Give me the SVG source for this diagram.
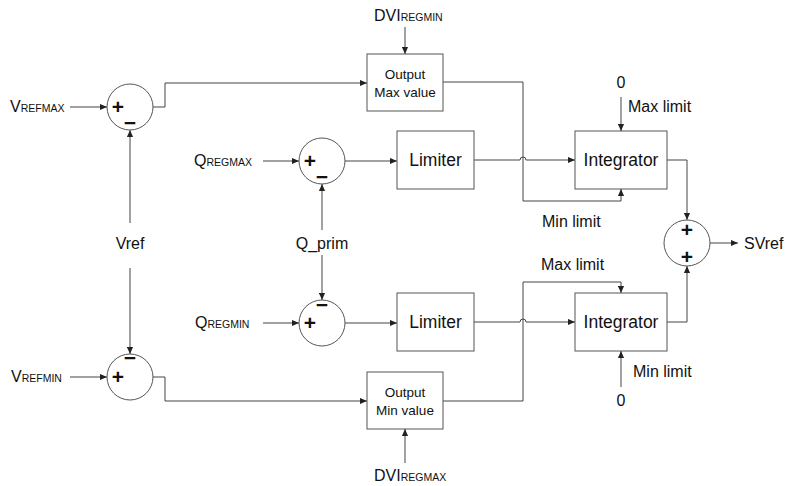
<svg xmlns="http://www.w3.org/2000/svg" width="785" height="486" viewBox="0 0 785 486">
<style>
text{font-family:"Liberation Sans",Arial,sans-serif;fill:#111}
.lbl{font-size:16px}
.big{font-size:17.5px}
.sm{font-size:13.5px}
.sub{font-size:10.5px}
.sign{font-size:21px;font-weight:bold}
.box{fill:#fff;stroke:#555;stroke-width:1}
.sum{fill:#fff;stroke:#555;stroke-width:1}
.c{fill:none;stroke:#444;stroke-width:1}
</style>
<defs>
<marker id="ah" viewBox="0 0 8 8" refX="8" refY="4" markerWidth="7" markerHeight="7" markerUnits="userSpaceOnUse" orient="auto">
<path d="M0,0.5 L8,4 L0,7.5 z" fill="#222"/>
</marker>
</defs>

<g id="connectors">
<line class="c" x1="70" y1="107" x2="107" y2="107" marker-end="url(#ah)"/>
<polyline class="c" points="153,107 165,107 165,83 367,83" marker-end="url(#ah)"/>
<line class="c" x1="405" y1="27" x2="405" y2="54" marker-end="url(#ah)"/>
<line class="c" x1="263" y1="161" x2="299" y2="161" marker-end="url(#ah)"/>
<line class="c" x1="345" y1="161" x2="397" y2="161" marker-end="url(#ah)"/>
<path class="c" d="M474,160 H520 A3,3 0 0 1 526,160 H575" marker-end="url(#ah)"/>
<polyline class="c" points="443,82 523,82 523,201 621,201 621,189" marker-end="url(#ah)"/>
<line class="c" x1="621" y1="97" x2="621" y2="131" marker-end="url(#ah)"/>
<polyline class="c" points="667,160 687,160 687,220" marker-end="url(#ah)"/>
<line class="c" x1="710" y1="243" x2="738" y2="243" marker-end="url(#ah)"/>
<line class="c" x1="130" y1="223" x2="130" y2="130" marker-end="url(#ah)"/>
<line class="c" x1="322" y1="230" x2="322" y2="184" marker-end="url(#ah)"/>
<line class="c" x1="130" y1="268" x2="130" y2="354" marker-end="url(#ah)"/>
<line class="c" x1="322" y1="255" x2="322" y2="300" marker-end="url(#ah)"/>
<line class="c" x1="263" y1="323" x2="299" y2="323" marker-end="url(#ah)"/>
<line class="c" x1="345" y1="323" x2="397" y2="323" marker-end="url(#ah)"/>
<path class="c" d="M474,322 H520 A3,3 0 0 1 526,322 H575" marker-end="url(#ah)"/>
<polyline class="c" points="443,401 523,401 523,282 621,282 621,293" marker-end="url(#ah)"/>
<line class="c" x1="621" y1="387" x2="621" y2="351" marker-end="url(#ah)"/>
<polyline class="c" points="667,322 687,322 687,266" marker-end="url(#ah)"/>
<line class="c" x1="70" y1="377" x2="107" y2="377" marker-end="url(#ah)"/>
<polyline class="c" points="153,377 165,377 165,401 367,401" marker-end="url(#ah)"/>
<line class="c" x1="405" y1="463" x2="405" y2="429" marker-end="url(#ah)"/>
</g>

<g id="sum_vrefmax">
<circle class="sum" cx="130" cy="107" r="23"/>
<text class="sign" x="118" y="114" text-anchor="middle">+</text>
<text class="sign" x="130" y="130" text-anchor="middle">−</text>
</g>
<g id="sum_qregmax">
<circle class="sum" cx="322" cy="161" r="23"/>
<text class="sign" x="310" y="168" text-anchor="middle">+</text>
<text class="sign" x="322" y="184" text-anchor="middle">−</text>
</g>
<g id="sum_qregmin">
<circle class="sum" cx="322" cy="323" r="23"/>
<text class="sign" x="322" y="312" text-anchor="middle">−</text>
<text class="sign" x="310" y="330" text-anchor="middle">+</text>
</g>
<g id="sum_vrefmin">
<circle class="sum" cx="130" cy="377" r="23"/>
<text class="sign" x="130" y="365" text-anchor="middle">−</text>
<text class="sign" x="118" y="384" text-anchor="middle">+</text>
</g>
<g id="sum_out">
<circle class="sum" cx="687" cy="243" r="23"/>
<text class="sign" x="687" y="237" text-anchor="middle">+</text>
<text class="sign" x="687" y="264" text-anchor="middle">+</text>
</g>

<g id="out_max">
<rect class="box" x="367" y="54" width="76" height="57"/>
<text class="sm" x="405" y="79" text-anchor="middle">Output</text>
<text class="sm" x="405" y="97" text-anchor="middle">Max value</text>
</g>
<g id="limiter1">
<rect class="box" x="397" y="131" width="77" height="58"/>
<text class="big" x="435.5" y="166" text-anchor="middle">Limiter</text>
</g>
<g id="integrator1">
<rect class="box" x="575" y="131" width="92" height="58"/>
<text class="big" x="621" y="166" text-anchor="middle">Integrator</text>
</g>
<g id="limiter2">
<rect class="box" x="397" y="293" width="77" height="58"/>
<text class="big" x="435.5" y="328" text-anchor="middle">Limiter</text>
</g>
<g id="integrator2">
<rect class="box" x="575" y="293" width="92" height="58"/>
<text class="big" x="621" y="328" text-anchor="middle">Integrator</text>
</g>
<g id="out_min">
<rect class="box" x="367" y="372" width="76" height="57"/>
<text class="sm" x="405" y="397" text-anchor="middle">Output</text>
<text class="sm" x="405" y="415" text-anchor="middle">Min value</text>
</g>

<g id="labels">
<text class="lbl" x="10" y="112">V<tspan class="sub">REFMAX</tspan></text>
<text class="lbl" x="194" y="166">Q<tspan class="sub">REGMAX</tspan></text>
<text class="lbl" x="195" y="328">Q<tspan class="sub">REGMIN</tspan></text>
<text class="lbl" x="11" y="382">V<tspan class="sub">REFMIN</tspan></text>
<text class="lbl" x="374" y="21">DVI<tspan class="sub">REGMIN</tspan></text>
<text class="lbl" x="374" y="481">DVI<tspan class="sub">REGMAX</tspan></text>
<text class="lbl" x="130" y="249" text-anchor="middle">Vref</text>
<text class="lbl" x="322" y="249" text-anchor="middle">Q_prim</text>
<text class="lbl" x="621" y="88" text-anchor="middle">0</text>
<text class="lbl" x="628" y="112">Max limit</text>
<text class="lbl" x="542" y="227">Min limit</text>
<text class="lbl" x="541" y="270">Max limit</text>
<text class="lbl" x="633" y="377">Min limit</text>
<text class="lbl" x="621" y="406" text-anchor="middle">0</text>
<text class="lbl" x="744" y="249">SVref</text>
</g>
</svg>
